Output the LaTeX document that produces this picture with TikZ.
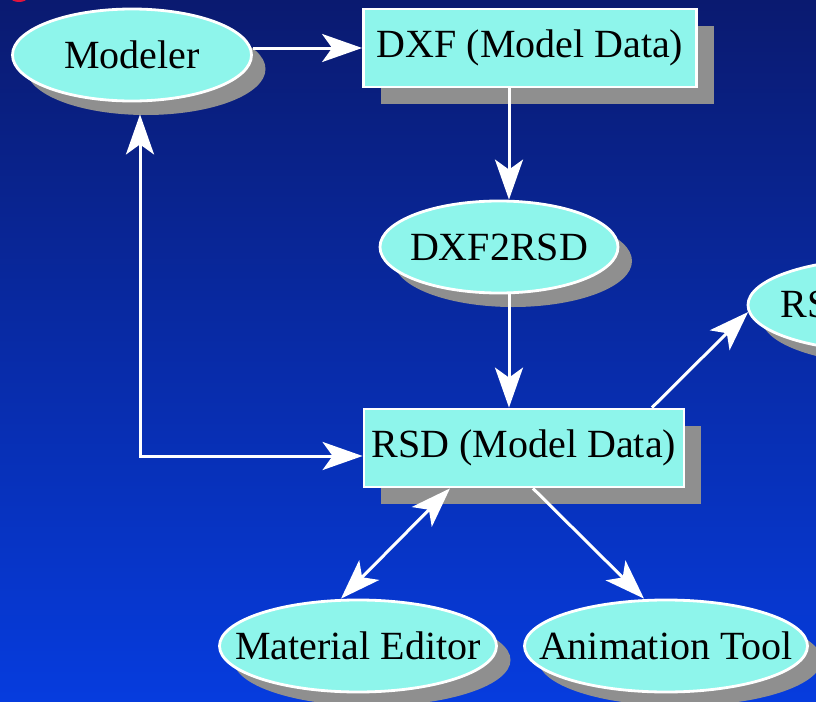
\documentclass[tikz,border=0pt]{standalone}
\usepackage{fontspec}
\setmainfont{Liberation Serif}
\usetikzlibrary{arrows.meta,shapes.geometric,shadows}

\definecolor{bgtop}{RGB}{10,26,112}
\definecolor{bgbottom}{RGB}{6,60,222}
\definecolor{toolcyan}{RGB}{142,245,235}
\definecolor{shadowgrey}{RGB}{143,143,143}
\definecolor{glyphred}{RGB}{225,20,60}

\newcommand{\centerlap}[1]{\makebox[0pt]{#1}}

\begin{document}
\begin{tikzpicture}[x=0.5pt,y=-0.5pt,
    >={Stealth[length=20pt,width=14pt,inset=5pt]},
    every node/.style={font=\rmfamily\fontsize{20}{24}\selectfont, text=black},
    tool/.style={ellipse, draw=white, line width=1.4pt, fill=toolcyan, inner sep=0pt,
        minimum height=46pt,
        drop shadow={shadow xshift=7pt, shadow yshift=-7pt, fill=shadowgrey, opacity=1}},
    data/.style={rectangle, draw=white, line width=1.4pt, fill=toolcyan,
        inner xsep=1pt, minimum height=39pt,
        drop shadow={shadow xshift=8.5pt, shadow yshift=-8.5pt, fill=shadowgrey, opacity=1}},
    flow/.style={->, color=white, line width=1.5pt}]

        % background
        \useasboundingbox (0,0) rectangle (816,702);
        \clip (0,0) rectangle (816,702);
        \shade[top color=bgtop, bottom color=bgbottom] (0,0) rectangle (816,702);
        \fill[glyphred] (19,-2) ellipse [x radius=4pt, y radius=2pt];

        \node[tool, minimum width=119.5pt] (modeler) at (132,55) {\centerlap{Modeler}};
        \node[data, minimum width=166.5pt] (dxf) at (530,48) {DXF (Model Data)};
        \node[tool, minimum width=119pt] (dxfrsd) at (499,247) {\centerlap{DXF2RSD}};
        \node[data, minimum width=160pt] (rsd) at (524,448) {\centerlap{RSD (Model Data)}};
        \node[tool, minimum width=134pt] (viewer) at (882,305) {\centerlap{RSD Viewer}};
        \node[tool, minimum width=138.5pt] (mated) at (358,646) {\centerlap{Material Editor}};
        \node[tool, minimum width=141.5pt] (anim) at (666,646) {\centerlap{Animation Tool}};

        \coordinate (col) at (509,0);
        \coordinate (corner) at (140,456);

        \draw[flow] (dxf.west -| modeler.east) -- (dxf.west);
        \draw[flow] (col |- dxf.south) -- (col |- dxfrsd.north);
        \draw[flow] (col |- dxfrsd.south) -- (col |- rsd.north);
        \draw[flow] ([xshift=64pt]rsd.north) -- (viewer.183);
        \draw[flow] ([xshift=4.5pt]rsd.south) -- ([xshift=-11pt]anim.north);
        \draw[flow, <->] ([xshift=-37pt]rsd.south) -- ([xshift=-8.5pt]mated.north);
        \draw[flow, <->, shorten <=6pt] (corner |- modeler.south) -- (corner) -- (corner -| rsd.west);
      \end{tikzpicture}
\end{document}
